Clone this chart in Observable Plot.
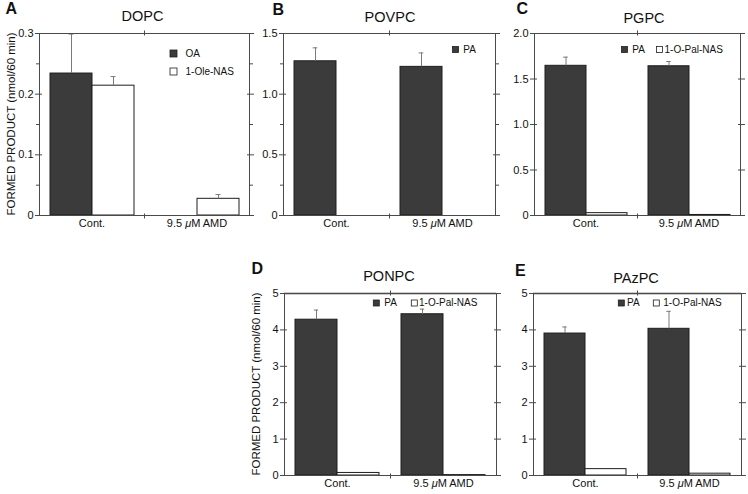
<!DOCTYPE html>
<html><head><meta charset="utf-8">
<script src="https://cdn.jsdelivr.net/npm/d3@7"></script>
<script src="https://cdn.jsdelivr.net/npm/@observablehq/plot@0.6"></script>
<style>
body{margin:0;background:#fff;}
#wrap{position:relative;width:748px;height:494px;overflow:hidden;background:#fff;font-family:"Liberation Sans",Arial,sans-serif;}
#wrap > svg{position:absolute;overflow:visible;}
#overlay{position:absolute;left:0;top:0;pointer-events:none;}
</style></head><body><div id="wrap"></div>
<script>
// ---- categories ----
const groups = ["Cont.", "9.5 μM AMD"];

// ---- Panel A: DOPC ----
const dopcSeries = ["OA", "1-Ole-NAS"];
const dopcOA = [0.234, null];
const dopcOAsd = [0.065, null];
const dopcNAS = [0.214, 0.0275];
const dopcNASsd = [0.015, 0.007];
const dopcTicks = [0, 0.1, 0.2, 0.3];
const dopcTickLabels = ["0", "0.1", "0.2", "0.3"];
const dopcMinor = [0.05, 0.15, 0.25];

// ---- Panel B: POVPC ----
const povpcSeries = ["PA"];
const povpcPA = [1.271, 1.225];
const povpcPAsd = [0.111, 0.115];
const povpcTicks = [0, 0.5, 1.0, 1.5];
const povpcTickLabels = ["0", "0.5", "1.0", "1.5"];
const povpcMinor = [0.25, 0.75, 1.25];

// ---- Panel C: PGPC ----
const pgpcSeries = ["PA", "1-O-Pal-NAS"];
const pgpcPA = [1.645, 1.64];
const pgpcPAsd = [0.095, 0.052];
const pgpcNAS = [0.026, 0.006];
const pgpcNASsd = [null, null];
const pgpcTicks = [0, 0.5, 1.0, 1.5, 2.0];
const pgpcTickLabels = ["0", "0.5", "1.0", "1.5", "2.0"];

// ---- Panel D: PONPC ----
const ponpcSeries = ["PA", "1-O-Pal-NAS"];
const ponpcPA = [4.28, 4.43];
const ponpcPAsd = [0.265, 0.14];
const ponpcNAS = [0.07, 0.012];
const ponpcNASsd = [null, null];
const ponpcTicks = [0, 1, 2, 3, 4, 5];
const ponpcTickLabels = ["0", "1", "2", "3", "4", "5"];

// ---- Panel E: PAzPC ----
const pazpcSeries = ["PA", "1-O-Pal-NAS"];
const pazpcPA = [3.90, 4.03];
const pazpcPAsd = [0.18, 0.48];
const pazpcNAS = [0.175, 0.05];
const pazpcNASsd = [null, null];
const pazpcTicks = [0, 1, 2, 3, 4, 5];
const pazpcTickLabels = ["0", "1", "2", "3", "4", "5"];

const yLabel = "FORMED PRODUCT (nmol/60 min)";

const panels = [
  {letter: "A", title: "DOPC", slots: dopcSeries, series: dopcSeries, values: [dopcOA, dopcNAS], sds: [dopcOAsd, dopcNASsd],
   yMax: 0.3, ticks: dopcTicks, labels: dopcTickLabels, minor: dopcMinor, frame: [39, 33, 249, 215],
   letterPos: [5.5, 14], titlePos: [142.5, 20.7], ylab: [14.5, 124],
   legend: {rows: true, x: 170, y: 50, items: [[170, 50, 185.5, 57], [170, 68, 185.5, 75]]}},
  {letter: "B", title: "POVPC", slots: ["PA", "1-O-Pal-NAS"], series: povpcSeries, values: [povpcPA], sds: [povpcPAsd],
   yMax: 1.5, ticks: povpcTicks, labels: povpcTickLabels, minor: povpcMinor, frame: [283, 33, 495, 215],
   letterPos: [272.5, 14.5], titlePos: [390, 21.5], ylab: null,
   legend: {items: [[452.5, 46.5, 463.3, 52.5]]}},
  {letter: "C", title: "PGPC", slots: pgpcSeries, series: pgpcSeries, values: [pgpcPA, pgpcNAS], sds: [pgpcPAsd, pgpcNASsd],
   yMax: 2.0, ticks: pgpcTicks, labels: pgpcTickLabels, minor: [], frame: [533, 33, 740, 215],
   letterPos: [516.5, 14], titlePos: [644, 23], ylab: null,
   legend: {items: [[621.5, 46.5, 632.3, 52.5], [656.5, 46.5, 664.5, 52.5]]}},
  {letter: "D", title: "PONPC", slots: ponpcSeries, series: ponpcSeries, values: [ponpcPA, ponpcNAS], sds: [ponpcPAsd, ponpcNASsd],
   yMax: 5, ticks: ponpcTicks, labels: ponpcTickLabels, minor: [], frame: [283, 293, 496, 475], topGray: true,
   letterPos: [251.5, 274], titlePos: [389, 281], ylab: [260, 384],
   legend: {items: [[373.3, 300, 384.3, 305.7], [411.3, 300, 419, 305.7]]}},
  {letter: "E", title: "PAzPC", slots: pazpcSeries, series: pazpcSeries, values: [pazpcPA, pazpcNAS], sds: [pazpcPAsd, pazpcNASsd],
   yMax: 5, ticks: pazpcTicks, labels: pazpcTickLabels, minor: [], frame: [533, 293, 741, 475], topGray: true,
   letterPos: [515, 276], titlePos: [636, 282.7], ylab: null,
   legend: {items: [[618.3, 300, 627, 305.7], [653.3, 300, 663.3, 305.7]]}}
];

const fills = ["#3b3b3b", "#ffffff"];
const wrap = document.getElementById("wrap");

function makePanel(p) {
  const ml = 40, mr = 12, mt = 10, mb = 26;
  const [L, T, R, B] = p.frame;
  const fw = R - L, fh = B - T;
  const W = fw + ml + mr, H = fh + mt + mb;
  const rows = [];
  p.series.forEach((s, si) => groups.forEach((g, gi) => {
    const v = p.values[si][gi];
    if (v != null) rows.push({group: g, series: s, value: v, sd: p.sds[si][gi]});
  }));
  const withSd = rows.filter(d => d.sd != null);
  const bw = (fw / groups.length) / (p.slots.length + 0.5);
  const capInset = bw / 2 - 2.5;
  const fmt = d => { const i = p.ticks.findIndex(t => Math.abs(t - d) < 1e-9); return i >= 0 ? p.labels[i] : ""; };
  const none = () => "";
  const marks = [];
  p.series.forEach((s, si) => marks.push(Plot.barY(rows.filter(d => d.series === s),
    {fx: "group", x: "series", y: "value", fill: fills[si], stroke: "#1e1e1e", strokeWidth: 1})));
  marks.push(Plot.ruleX(withSd, {fx: "group", x: "series", y1: "value", y2: d => d.value + d.sd, stroke: "#7a7a7a"}));
  marks.push(Plot.tickY(withSd, {fx: "group", x: "series", y: d => d.value + d.sd, stroke: "#7a7a7a", insetLeft: capInset, insetRight: capInset}));
  if (p.topGray) marks.push(Plot.ruleY([p.yMax], {stroke: "#9a9a9a", strokeWidth: 2}));
  marks.push(Plot.frame({facet: "super", stroke: "#4a4a4a"}));
  // boundary ticks between the two groups (top and bottom)
  marks.push(Plot.frame({facet: "super", stroke: "none", render(index, scales, values, dims) {
    const x = (scales.fx ? scales.fx(groups[1]) : dims.marginLeft + (dims.width - dims.marginLeft - dims.marginRight) / 2) + 0.5;
    const yB = dims.height - dims.marginBottom + 0.5, yT = dims.marginTop + 0.5;
    const g = d3.create("svg:g").attr("stroke", "#4a4a4a");
    g.append("line").attr("x1", x).attr("x2", x).attr("y1", yB - 2).attr("y2", yB + 3);
    g.append("line").attr("x1", x).attr("x2", x).attr("y1", yT - 3).attr("y2", yT + 2);
    return g.node();
  }}));
  for (const anchor of ["left", "right"]) {
    marks.push(Plot.axisY({anchor, ticks: p.ticks, tickSize: 4, tickPadding: 2, tickFormat: anchor === "left" ? fmt : none, fontSize: 11, label: null, stroke: "#4a4a4a"}));
    marks.push(Plot.axisY({anchor, ticks: p.ticks, tickSize: -3, tickFormat: none, label: null, stroke: "#4a4a4a"}));
    if (p.minor.length) marks.push(Plot.axisY({anchor, ticks: p.minor, tickSize: 3, tickFormat: none, label: null, stroke: "#4a4a4a"}));
  }
  marks.push(Plot.axisFx({anchor: "bottom", tickSize: 0, tickPadding: 4, fontSize: 11, label: null}));
  const svg = Plot.plot({
    width: W, height: H, marginLeft: ml, marginRight: mr, marginTop: mt, marginBottom: mb,
    style: {fontFamily: "'Liberation Sans', Arial, sans-serif", fontSize: "11px", background: "transparent", color: "#111"},
    fx: {domain: groups, padding: 0, axis: null, label: null},
    x: {domain: p.slots, paddingInner: 0, paddingOuter: 0.25, axis: null},
    y: {domain: [0, p.yMax], axis: null},
    marks
  });
  svg.querySelectorAll("text").forEach(t => {
    if (t.textContent === groups[1]) t.innerHTML = '9.5 <tspan font-style="italic">μ</tspan>M AMD';
  });
  svg.style.left = (L - ml) + "px";
  svg.style.top = (T - mt) + "px";
  wrap.appendChild(svg);
}

panels.forEach(makePanel);

// overlay with panel letters, titles, y labels and legends
const ov = d3.select(wrap).append("svg").attr("id", "overlay").attr("width", 748).attr("height", 494)
  .style("font-family", "'Liberation Sans', Arial, sans-serif").attr("fill", "#111");
panels.forEach(p => {
  ov.append("text").attr("x", p.letterPos[0]).attr("y", p.letterPos[1]).attr("font-size", 16).attr("font-weight", "bold").text(p.letter);
  ov.append("text").attr("x", p.titlePos[0]).attr("y", p.titlePos[1]).attr("font-size", 14.5).attr("text-anchor", "middle").text(p.title);
  if (p.ylab) ov.append("text").attr("transform", `translate(${p.ylab[0]},${p.ylab[1]}) rotate(-90)`)
    .attr("font-size", 11.5).attr("text-anchor", "middle").text(yLabel);
  p.legend.items.forEach((it, i) => {
    ov.append("rect").attr("x", it[0]).attr("y", it[1]).attr("width", p.letter === "A" ? 7 : 6).attr("height", p.letter === "A" ? 7 : 6)
      .attr("fill", fills[i]).attr("stroke", "#1e1e1e").attr("stroke-width", 0.8);
    ov.append("text").attr("x", it[2]).attr("y", it[3]).attr("font-size", 10).text(p.series[i]);
  });
});
</script></body></html>
